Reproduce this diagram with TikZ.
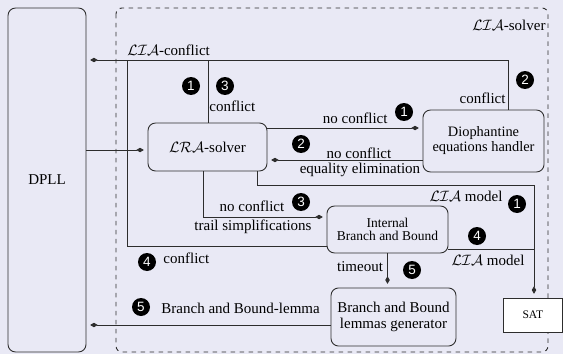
\documentclass[tikz,border=0pt]{standalone}
\usepackage{fontspec}
\setmainfont{Liberation Serif}
\setsansfont{Liberation Sans}
\usepackage{amsmath}
\usetikzlibrary{arrows.meta}
\definecolor{bgcol}{RGB}{233,233,245}
\definecolor{linecol}{RGB}{45,45,45}
\tikzset{
  box/.style={draw=linecol, fill=bgcol, rounded corners=5pt, semithick, inner sep=0pt, align=center},
  num/.style={circle, fill=black, text=white, font=\sffamily\small, inner sep=0pt, minimum size=12pt},
  arr/.style={-{Kite[length=5pt,width=3pt,inset=2.5pt]}, shorten >=2.5pt},
  lbl/.style={inner sep=0pt},
}
\newcommand{\lia}{$\mathcal{LIA}$}

\begin{document}
\begin{tikzpicture}[x=0.6667pt,y=-0.6667pt,line width=0.6pt,draw=linecol]
\fill[bgcol] (0,0) rectangle (563,354);
\useasboundingbox (0,0) rectangle (563,354);

% solver frame
\draw[dashed,rounded corners=4pt] (116,8) rectangle (548,352);
\node[lbl,anchor=east] (solverlbl) at (546,25) {\lia-solver};

% boxes
\node[box,minimum width=52pt,minimum height=229.3pt] (dpll) at (47,180) {DPLL};
\node[box,minimum width=79.3pt,minimum height=32pt] (lra) at (207.5,147) {$\mathcal{LRA}$-solver};
\node[box,minimum width=80.7pt,minimum height=41.3pt,font=\fontsize{9.6}{10}\selectfont] (dioph) at (483.5,141) {Diophantine\\equations handler};
\node[box,minimum width=80.7pt,minimum height=31.3pt,font=\fontsize{9}{8.3}\selectfont] (bbi) at (387.5,229.5) {Internal\\Branch and Bound};
\node[box,minimum width=83.3pt,minimum height=38.7pt,font=\fontsize{10}{10.8}\selectfont] (bbgen) at (393.5,317) {Branch and Bound\\lemmas generator};
\node[box,rounded corners=0pt,fill=white,minimum width=39.6pt,minimum height=22.7pt,font=\fontsize{7.7}{8}\selectfont] (sat) at (532.8,315) {SAT};

% bend points
\coordinate (topR) at (508,60);
\coordinate (lraUp) at (208,60);
\coordinate (confL) at (127,246);
\coordinate (inY) at (0,150);
\coordinate (toDio) at (0,128);
\coordinate (fromDio) at (0,160);
\coordinate (trail) at (203,217);
\coordinate (model) at (257,185);
\coordinate (satX) at (534,249);
\coordinate (lemY) at (0,325);

% connectors
\draw[arr] (dioph.north -| topR) -- (topR) -- (topR -| dpll.east);
\draw (lraUp |- lra.north) -- (lraUp);
\draw (bbi.west |- confL) -- (confL) -- (confL |- topR);
\draw[arr] (dpll.east |- inY) -- (lra.west |- inY);
\draw[arr] (lra.east |- toDio) -- (dioph.west |- toDio);
\draw[arr] (dioph.west |- fromDio) -- (lra.east |- fromDio);
\draw[arr] (trail |- lra.south) -- (trail) -- (trail -| bbi.west);
\draw[arr] (model |- lra.south) -- (model) -- (model -| satX) -- (satX |- sat.north);
\draw (bbi.east |- satX) -- (satX);
\draw[arr] (bbi.south) -- (bbgen.north -| bbi.south);
\draw[arr] (bbgen.west |- lemY) -- (dpll.east |- lemY);

% labels
\node[lbl,anchor=west] (liaconf) at (127,50) {\lia-conflict};
\node[num] (n1a) at (191,86) {1};
\node[num] (n3a) at (225,86) {3};
\node[lbl,anchor=west] (confa) at (209,106) {conflict};
\node[lbl,anchor=east] (noconfa) at (388,118) {no conflict};
\node[num] (n1b) at (404,112) {1};
\node[lbl,anchor=east] (confb) at (506,98) {conflict};
\node[num] (n2a) at (525,80) {2};
\node[num] (n2b) at (301,144) {2};
\node[lbl] (noconfb) at (359,153) {no conflict};
\node[lbl] (eqelim) at (360,170) {equality elimination};
\node[lbl] (noconfc) at (252,206) {no conflict};
\node[num] (n3b) at (301,202) {3};
\node[lbl] (trailsimp) at (253,227) {trail simplifications};
\node[lbl] (modela) at (466,196) {\lia{} model};
\node[num] (n1c) at (517,204) {1};
\node[num] (n4a) at (477,236) {4};
\node[lbl] (modelb) at (488,260) {\lia{} model};
\node[lbl] (tout) at (360,267) {timeout};
\node[num] (n5a) at (412,270) {5};
\node[num] (n4b) at (147,262) {4};
\node[lbl,anchor=west] (confc) at (163,258) {conflict};
\node[num] (n5b) at (141,307) {5};
\node[lbl,anchor=west] (bblemma) at (161,308) {Branch and Bound-lemma};
\end{tikzpicture}
\end{document}
